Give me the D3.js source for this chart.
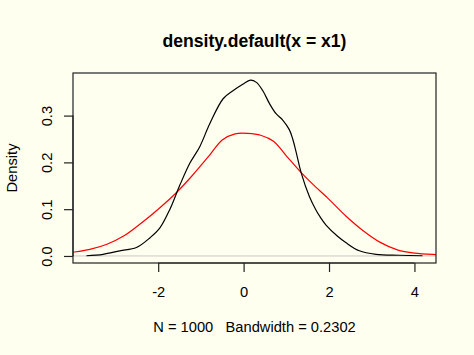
<!DOCTYPE html>
<html>
<head>
<meta charset="utf-8">
<script src="https://cdn.jsdelivr.net/npm/d3@7"></script>
<style>
  html, body { margin: 0; padding: 0; background: #fffff0; }
  svg { display: block; }
  text { font-family: "Liberation Sans", Arial, sans-serif; fill: #000; white-space: pre; }
</style>
</head>
<body>
<svg id="chart" width="474" height="355"></svg>
<script>
// ---- data ----
const titleText = "density.default(x = x1)";
const xLabelText = "N = 1000   Bandwidth = 0.2302";
const yLabelText = "Density";

const xTicks = [-2, 0, 2, 4];
const xTickLabels = ["-2", "0", "2", "4"];
const yTicks = [0.0, 0.1, 0.2, 0.3];
const yTickLabels = ["0.0", "0.1", "0.2", "0.3"];

// black: kernel density estimate
const densX = [-3.68, -3.29, -2.9, -2.51, -2.19, -1.96, -1.73, -1.49, -1.26, -1.03, -0.79, -0.48, -0.25, -0.02, 0.16, 0.30, 0.45, 0.61, 0.76, 0.92, 1.07, 1.15, 1.23, 1.35, 1.54, 1.70, 1.78, 1.93, 2.2, 2.40, 2.71, 3.10, 3.64, 4.19];
const densY = [0.0005, 0.0035, 0.011, 0.018, 0.039, 0.06, 0.099, 0.152, 0.198, 0.233, 0.283, 0.336, 0.353, 0.367, 0.376, 0.371, 0.353, 0.325, 0.304, 0.29, 0.27, 0.25, 0.222, 0.177, 0.127, 0.097, 0.085, 0.066, 0.042, 0.028, 0.011, 0.0035, 0.0015, 0.0005];

// red: smoother comparison curve
const redX = [-4.3, -4.0, -3.6, -3.2, -2.8, -2.4, -2.0, -1.6, -1.2, -0.8, -0.5, -0.2, 0.1, 0.4, 0.7, 1.0, 1.3, 1.6, 2.0, 2.4, 2.8, 3.2, 3.6, 4.0, 4.5, 4.7];
const redY = [0.005, 0.008, 0.014, 0.025, 0.043, 0.07, 0.1, 0.133, 0.172, 0.215, 0.248, 0.261, 0.262, 0.258, 0.245, 0.214, 0.183, 0.155, 0.121, 0.085, 0.054, 0.029, 0.013, 0.006, 0.003, 0.0025];

// ---- layout ----
const plot = { left: 73, right: 436, top: 73, bottom: 263 };
const svg = d3.select("#chart");

const xExt = d3.extent(densX), yMax = d3.max(densY);
const xPad = (xExt[1] - xExt[0]) * 0.04, yPad = yMax * 0.04;
const x = d3.scaleLinear().domain([xExt[0] - xPad, xExt[1] + xPad]).range([plot.left, plot.right]);
const y = d3.scaleLinear().domain([0 - yPad, yMax + yPad]).range([plot.bottom, plot.top]);

svg.append("defs").append("clipPath").attr("id", "clip")
  .append("rect").attr("x", plot.left).attr("y", plot.top)
  .attr("width", plot.right - plot.left).attr("height", plot.bottom - plot.top);

const g = svg.append("g").attr("clip-path", "url(#clip)");

// zero line
g.append("line")
  .attr("x1", plot.left).attr("x2", plot.right)
  .attr("y1", y(0)).attr("y2", y(0))
  .attr("stroke", "#c8c8c8").attr("stroke-width", 1);

const line = d3.line().x(d => x(d[0])).y(d => y(d[1])).curve(d3.curveCatmullRom.alpha(0.5));

g.append("path").datum(redX.map((v, i) => [v, redY[i]]))
  .attr("d", line).attr("fill", "none").attr("stroke", "#ff0000").attr("stroke-width", 1.2);

g.append("path").datum(densX.map((v, i) => [v, densY[i]]))
  .attr("d", line).attr("fill", "none").attr("stroke", "#000").attr("stroke-width", 1.2);

// box
svg.append("rect")
  .attr("x", plot.left).attr("y", plot.top)
  .attr("width", plot.right - plot.left).attr("height", plot.bottom - plot.top)
  .attr("fill", "none").attr("stroke", "#222").attr("stroke-width", 1.2);

// axes
const xAxis = d3.axisBottom(x).tickValues(xTicks).tickSize(9).tickPadding(4)
  .tickFormat((d, i) => xTickLabels[i]);
const xg = svg.append("g").attr("transform", `translate(0,${plot.bottom})`).call(xAxis);
xg.select(".domain").attr("d", `M${x(xTicks[0])},0H${x(xTicks[xTicks.length - 1])}`)
  .attr("stroke", "#222").attr("stroke-width", 1.2);
xg.selectAll(".tick line").attr("stroke", "#222").attr("stroke-width", 1.2);
xg.selectAll(".tick text").attr("font-size", "14.7px").attr("font-family", "Liberation Sans, Arial, sans-serif")
  .attr("y", 0).attr("dy", 0).attr("transform", "translate(0,34)");

const yAxis = d3.axisLeft(y).tickValues(yTicks).tickSize(9)
  .tickFormat((d, i) => yTickLabels[i]);
const yg = svg.append("g").attr("transform", `translate(${plot.left},0)`).call(yAxis);
yg.select(".domain").attr("d", `M0,${y(yTicks[0])}V${y(yTicks[yTicks.length - 1])}`)
  .attr("stroke", "#222").attr("stroke-width", 1.2);
yg.selectAll(".tick line").attr("stroke", "#222").attr("stroke-width", 1.2);
yg.selectAll(".tick text").attr("font-size", "14.7px").attr("font-family", "Liberation Sans, Arial, sans-serif")
  .attr("x", 0).attr("dy", 0).attr("text-anchor", "middle")
  .attr("transform", "translate(-21,0) rotate(-90)");

// titles
svg.append("text").attr("x", (plot.left + plot.right) / 2).attr("y", 47)
  .attr("text-anchor", "middle").attr("font-size", "17.6px").attr("font-weight", "bold")
  .text(titleText);

svg.append("text").attr("x", (plot.left + plot.right) / 2).attr("y", 332)
  .attr("text-anchor", "middle").attr("font-size", "14.7px")
  .attr("xml:space", "preserve")
  .text(xLabelText);

svg.append("text")
  .attr("transform", `translate(17,${(plot.top + plot.bottom) / 2}) rotate(-90)`)
  .attr("text-anchor", "middle").attr("font-size", "14.7px")
  .text(yLabelText);
</script>
</body>
</html>
